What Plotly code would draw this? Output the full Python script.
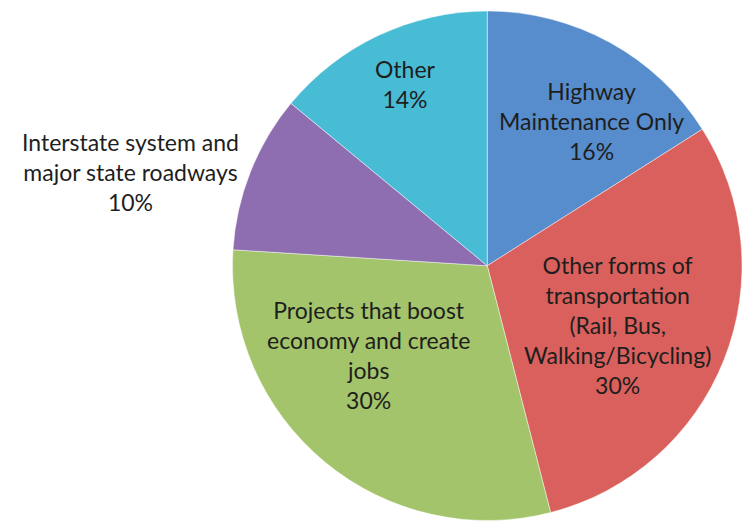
import plotly.graph_objects as go

# Survey shares for transportation funding priorities (percent)
labels = [
    "Highway<br>Maintenance Only",
    "Other forms of<br>transportation<br>(Rail, Bus,<br>Walking/Bicycling)",
    "Projects that boost<br>economy and create<br>jobs",
    "Interstate system and<br>major state roadways",
    "Other",
]
values = [16, 30, 30, 10, 14]
colors = ["#578DCC", "#D9605C", "#A3C46A", "#8E6EB0", "#48BCD4"]

# Label anchor points in pixels (x, y from top) for each slice's caption
label_px = [(591, 121), (617, 325), (368, 355), (130, 172), (405, 84)]

W, H = 742, 522

fig = go.Figure(
    go.Pie(
        labels=labels,
        values=values,
        sort=False,
        direction="clockwise",
        rotation=0,
        marker=dict(colors=colors, line=dict(color="rgba(255,255,255,0.45)", width=1)),
        textinfo="none",
        hoverinfo="label+percent",
        domain=dict(x=[232.5 / W, 1.0], y=[1.5 / H, 511.0 / H]),
        showlegend=False,
    )
)

total = sum(values)
for lab, val, (px, py) in zip(labels, values, label_px):
    fig.add_annotation(
        x=px / W,
        y=1 - py / H,
        xref="paper",
        yref="paper",
        xanchor="center",
        yanchor="middle",
        align="center",
        showarrow=False,
        text=f"{lab}<br>{round(100 * val / total)}%",
        font=dict(family="Lato", size=23, color="#1E1E1E"),
    )

fig.update_layout(
    width=W,
    height=H,
    margin=dict(l=0, r=0, t=0, b=0),
    paper_bgcolor="white",
    plot_bgcolor="white",
)

fig.write_html("out.html")
